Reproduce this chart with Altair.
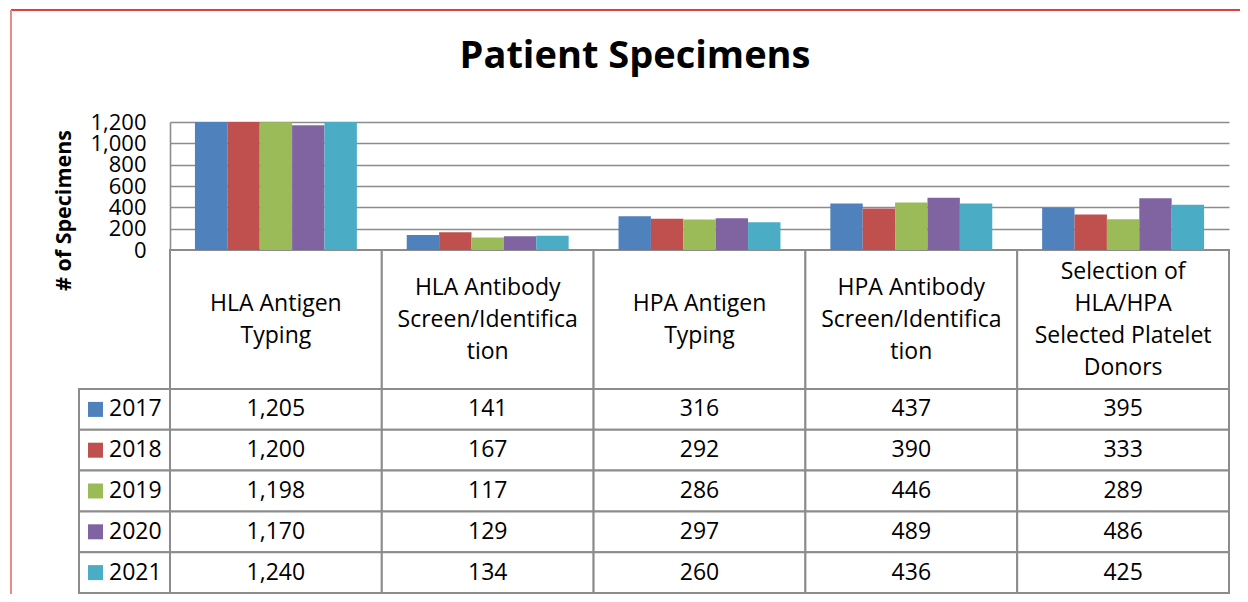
import altair as alt
import pandas as pd

chart_title = "Patient Specimens"
categories = [
    "HLA Antigen Typing",
    "HLA Antibody Screen/Identification",
    "HPA Antigen Typing",
    "HPA Antibody Screen/Identification",
    "Selection of HLA/HPA Selected Platelet Donors",
]
header_lines = [
    ["HLA Antigen", "Typing"],
    ["HLA Antibody", "Screen/Identifica", "tion"],
    ["HPA Antigen", "Typing"],
    ["HPA Antibody", "Screen/Identifica", "tion"],
    ["Selection of", "HLA/HPA", "Selected Platelet", "Donors"],
]
years = ["2017", "2018", "2019", "2020", "2021"]
values_2017 = [1205, 141, 316, 437, 395]
values_2018 = [1200, 167, 292, 390, 333]
values_2019 = [1198, 117, 286, 446, 289]
values_2020 = [1170, 129, 297, 489, 486]
values_2021 = [1240, 134, 260, 436, 425]
colors = ["#4F81BD", "#C0504D", "#9BBB59", "#8064A2", "#4BACC6"]
y_ticks = [0, 200, 400, 600, 800, 1000, 1200]

series = [values_2017, values_2018, values_2019, values_2020, values_2021]
rows = []
for yr, vals in zip(years, series):
    for cat, v in zip(categories, vals):
        rows.append({"category": cat, "year": yr, "value": v})
df = pd.DataFrame(rows)

hrows = []
for cat, lines in zip(categories, header_lines):
    for i, ln in enumerate(lines):
        hrows.append({"category": cat, "line": ln, "idx": i, "n": len(lines)})
hdr = pd.DataFrame(hrows)
hdr_cells = pd.DataFrame({"category": categories})
yr_df = pd.DataFrame({"year": years})
title_df = pd.DataFrame({"t": [chart_title]})

FONT = "Open Sans"
GRID = "#8C8C8C"

xenc = alt.X("category:N", scale=alt.Scale(domain=categories, paddingInner=0, paddingOuter=0), axis=None)
color = alt.Color("year:N", scale=alt.Scale(domain=years, range=colors), legend=None)
row_y = alt.Y("year:N", scale=alt.Scale(domain=years, range=[267, 471], paddingInner=0, paddingOuter=0), axis=None)

bars = alt.Chart(df).mark_bar().encode(
    x=xenc,
    xOffset=alt.XOffset("year:N", scale=alt.Scale(domain=years, paddingOuter=0.77, paddingInner=0)),
    y=alt.Y("value:Q", scale=alt.Scale(domain=[0, 1200], clamp=True),
            axis=alt.Axis(values=y_ticks, format=",.0f", grid=True, gridColor=GRID, gridWidth=1.6,
                          domain=True, domainColor=GRID, domainWidth=1.6, ticks=False, tickSize=0,
                          labelPadding=24, labelFont=FONT, labelFontSize=22, labelColor="black",
                          labelOverlap=False, labelFlush=False, labelBaseline="middle",
                          title="# of Specimens", titleFont=FONT, titleFontSize=21.5, titleFontWeight="bold",
                          titleColor="black", titleAngle=270, titleX=-106, titleY=88,
                          titleAlign="center", titleBaseline="middle")),
    color=color,
)

header_cells = alt.Chart(hdr_cells).mark_rect(fill="white", stroke=GRID, strokeWidth=2).encode(
    x=xenc, y=alt.value(128), y2=alt.value(267)
)
header_text = alt.Chart(hdr).transform_calculate(
    pos="datum.idx - (datum.n - 1) / 2"
).mark_text(font=FONT, fontSize=23, color="black", baseline="middle", align="center").encode(
    x=xenc,
    y=alt.Y("pos:Q", scale=alt.Scale(domain=[-2, 2], range=[133.5, 261.5]), axis=None),
    text="line:N",
)
cells = alt.Chart(df).mark_rect(fill="white", stroke=GRID, strokeWidth=2).encode(
    x=xenc, y=row_y
)
cell_text = alt.Chart(df).mark_text(font=FONT, fontSize=23, color="black", baseline="middle",
                                    align="center").encode(
    x=xenc, y=row_y, text=alt.Text("value:Q", format=",.0f")
)
legend_cells = alt.Chart(yr_df).mark_rect(fill="white", stroke=GRID, strokeWidth=2).encode(
    x=alt.value(-91), x2=alt.value(0), y=row_y
)
legend_sw = alt.Chart(yr_df).mark_square(size=225, opacity=1).encode(
    x=alt.value(-74.5), y=row_y, color=color
)
legend_text = alt.Chart(yr_df).mark_text(font=FONT, fontSize=23, color="black", baseline="middle",
                                         align="left").encode(
    x=alt.value(-61), y=row_y, text="year:N"
)
title_mark = alt.Chart(title_df).mark_text(font=FONT, fontSize=38, fontWeight="bold", color="black",
                                           baseline="alphabetic", align="center").encode(
    x=alt.value(465), y=alt.value(-54), text="t:N"
)
border_top = alt.Chart(yr_df.head(1)).mark_rule(color="#D00000", strokeWidth=1.5).encode(
    x=alt.value(-159), x2=alt.value(1090), y=alt.value(-112)
)
border_left = alt.Chart(yr_df.head(1)).mark_rule(color="#E88A8A", strokeWidth=2).encode(
    x=alt.value(-159), y=alt.value(-112), y2=alt.value(480)
)

chart = alt.layer(
    border_top, border_left,
    header_cells, cells, legend_cells,
    bars, header_text, cell_text, legend_sw, legend_text, title_mark,
).resolve_scale(y="independent").properties(
    width=1059, height=128,
    autosize=alt.AutoSizeParams(type="none"),
    padding={"left": 162, "top": 114, "right": 11, "bottom": 344},
).configure_view(stroke=None)

chart.save("out.html", embed_options={"renderer": "svg", "actions": False})
